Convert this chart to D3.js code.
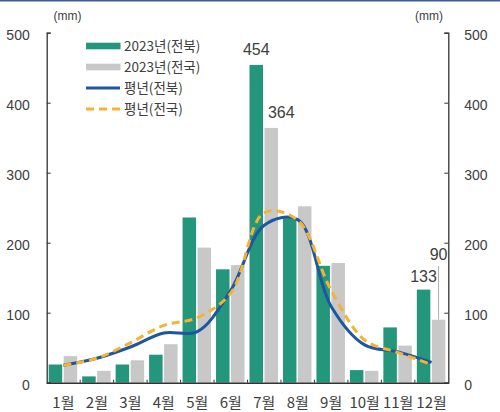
<!DOCTYPE html>
<html>
<head>
<meta charset="utf-8">
<script src="https://cdn.jsdelivr.net/npm/d3@7"></script>
<style>
  body { margin: 0; background: #fff; }
  svg { display: block; font-family: "Liberation Sans", "Noto Sans CJK KR", sans-serif; }
</style>
</head>
<body>
<svg id="chart" width="500" height="412"></svg>
<script>
// months
let months = ['1월','2월','3월','4월','5월','6월','7월','8월','9월','10월','11월','12월']

// 2023 rainfall (mm)
let rain2023Jb = [26, 9, 26, 40, 236, 162, 454, 235, 167, 18, 79, 133]
let rain2023Kr = [38, 17, 32, 55, 193, 168, 364, 252, 171, 17, 53, 90]

// normal year rainfall (mm)
let normalJb = [25, 35, 51, 71, 73, 132, 225, 233, 109, 54, 44, 29]
let normalKr = [25, 35, 57, 82, 93, 128, 243, 232, 132, 61, 43, 26]

let yTicks = [0, 100, 200, 300, 400, 500]

let green = '#23967b'
let gray = '#c8c8c8'
let blue = '#1f56a0'
let orange = '#f7b32f'
let textColor = '#404040'

let svg = d3.select('#chart')

// top border
svg.append('rect')
    .attr('x', 0).attr('y', 0)
    .attr('width', 500).attr('height', 1.5)
    .attr('fill', '#3b5e91')

let plotLeft = 46.7
let plotRight = 448.3
let plotTop = 32.7
let plotBottom = 382.7

let x = d3.scaleBand()
    .domain(months)
    .range([plotLeft, plotRight])

let xSub = d3.scaleBand()
    .domain(['jb', 'kr'])
    .range([2, 30.5])
    .paddingInner(0.1)

let y = d3.scaleLinear()
    .domain([0, 500])
    .range([plotBottom, plotTop])

// bars
let bars = svg.append('g')
bars.selectAll('rect.jb')
    .data(rain2023Jb)
    .enter()
    .append('rect')
    .attr('class', 'jb')
    .attr('x', (d, i) => x(months[i]) + xSub('jb'))
    .attr('y', (d) => y(d))
    .attr('width', xSub.bandwidth())
    .attr('height', (d) => plotBottom - y(d))
    .attr('fill', green)

bars.selectAll('rect.kr')
    .data(rain2023Kr)
    .enter()
    .append('rect')
    .attr('class', 'kr')
    .attr('x', (d, i) => x(months[i]) + xSub('kr'))
    .attr('y', (d) => y(d))
    .attr('width', xSub.bandwidth())
    .attr('height', (d) => plotBottom - y(d))
    .attr('fill', gray)

// normal-year lines
let line = d3.line()
    .x((d, i) => x(months[i]) + x.bandwidth() / 2)
    .y((d) => y(d))
    .curve(d3.curveCatmullRom)

svg.append('path')
    .attr('d', line(normalJb))
    .attr('fill', 'none')
    .attr('stroke', blue)
    .attr('stroke-width', 3)

svg.append('path')
    .attr('d', line(normalKr))
    .attr('fill', 'none')
    .attr('stroke', orange)
    .attr('stroke-width', 3)
    .attr('stroke-dasharray', '8,5')

// axes
let axisColor = '#333'
let leftAxis = svg.append('g')
    .attr('transform', 'translate(' + plotLeft + ',0)')
    .call(d3.axisLeft(y).tickValues(yTicks).tickSize(-4).tickPadding(17))
let rightAxis = svg.append('g')
    .attr('transform', 'translate(' + plotRight + ',0)')
    .call(d3.axisRight(y).tickValues(yTicks).tickSize(-4).tickPadding(16))
let bottomAxis = svg.append('g')
    .attr('transform', 'translate(0,' + plotBottom + ')')
    .call(d3.axisBottom(x).tickSize(0).tickPadding(15))

for (let ax of [leftAxis, rightAxis]) {
    ax.select('.domain').attr('stroke', axisColor).attr('stroke-width', 1.3)
    ax.selectAll('.tick line').attr('stroke', axisColor)
    ax.selectAll('.tick text')
        .attr('fill', textColor)
        .attr('font-size', 14)
        .attr('font-family', '"Liberation Sans", sans-serif')
        .attr('dy', '0.5em')
}
bottomAxis.select('.domain').attr('stroke', axisColor).attr('stroke-width', 1.5)
bottomAxis.selectAll('.tick text')
    .attr('fill', textColor)
    .attr('font-size', 15)
    .attr('font-family', '"Noto Sans CJK KR", sans-serif')

// category boundary ticks (pointing up)
svg.append('g')
    .selectAll('line')
    .data(months.slice(1))
    .enter()
    .append('line')
    .attr('x1', (d) => x(d))
    .attr('x2', (d) => x(d))
    .attr('y1', plotBottom)
    .attr('y2', plotBottom - 3)
    .attr('stroke', axisColor)

// unit labels
svg.append('text').attr('x', 67.5).attr('y', 20).attr('text-anchor', 'middle')
    .attr('font-size', 12).attr('fill', textColor).text('(mm)')
svg.append('text').attr('x', 429).attr('y', 20).attr('text-anchor', 'middle')
    .attr('font-size', 12).attr('fill', textColor).text('(mm)')

// value labels
let labelFont = 16
let julX = x('7월')
svg.append('text')
    .attr('x', julX + xSub('jb') + xSub.bandwidth() / 2)
    .attr('y', y(rain2023Jb[6]) - 10)
    .attr('text-anchor', 'middle')
    .attr('font-size', labelFont).attr('fill', textColor)
    .text(rain2023Jb[6])
svg.append('text')
    .attr('x', julX + xSub('kr') + xSub.bandwidth() / 2 + 10)
    .attr('y', y(rain2023Kr[6]) - 10)
    .attr('text-anchor', 'middle')
    .attr('font-size', labelFont).attr('fill', textColor)
    .text(rain2023Kr[6])

let decX = x('12월')
svg.append('text')
    .attr('x', decX + xSub('jb') + xSub.bandwidth() / 2)
    .attr('y', y(rain2023Jb[11]) - 8)
    .attr('text-anchor', 'middle')
    .attr('font-size', labelFont).attr('fill', textColor)
    .text(rain2023Jb[11])
svg.append('line')
    .attr('x1', decX + xSub('kr') + xSub.bandwidth() / 2)
    .attr('x2', decX + xSub('kr') + xSub.bandwidth() / 2)
    .attr('y1', 266)
    .attr('y2', y(rain2023Kr[11]))
    .attr('stroke', '#999').attr('stroke-width', 0.8)
svg.append('text')
    .attr('x', decX + xSub('kr') + xSub.bandwidth() / 2)
    .attr('y', 260)
    .attr('text-anchor', 'middle')
    .attr('font-size', labelFont).attr('fill', textColor)
    .text(rain2023Kr[11])

// legend
let legendItems = [
    { name: '2023년(전북)', color: green, type: 'bar' },
    { name: '2023년(전국)', color: gray, type: 'bar' },
    { name: '평년(전북)', color: blue, type: 'line' },
    { name: '평년(전국)', color: orange, type: 'dash' }
]
let legend = svg.append('g').attr('transform', 'translate(86,46)')
legendItems.forEach((item, i) => {
    let g = legend.append('g').attr('transform', 'translate(0,' + (i * 21) + ')')
    if (item.type === 'bar') {
        g.append('rect').attr('x', 0).attr('y', -3.3).attr('width', 34.5).attr('height', 6.6)
            .attr('fill', item.color)
    } else {
        g.append('line').attr('x1', 0).attr('x2', 34).attr('y1', 0).attr('y2', 0)
            .attr('stroke', item.color).attr('stroke-width', 3)
            .attr('stroke-dasharray', item.type === 'dash' ? '8,5' : null)
    }
    g.append('text')
        .attr('x', 38).attr('y', 5)
        .attr('font-size', 13.5)
        .attr('font-family', '"Noto Sans CJK KR", sans-serif')
        .attr('fill', textColor)
        .text(item.name)
})
</script>
</body>
</html>
